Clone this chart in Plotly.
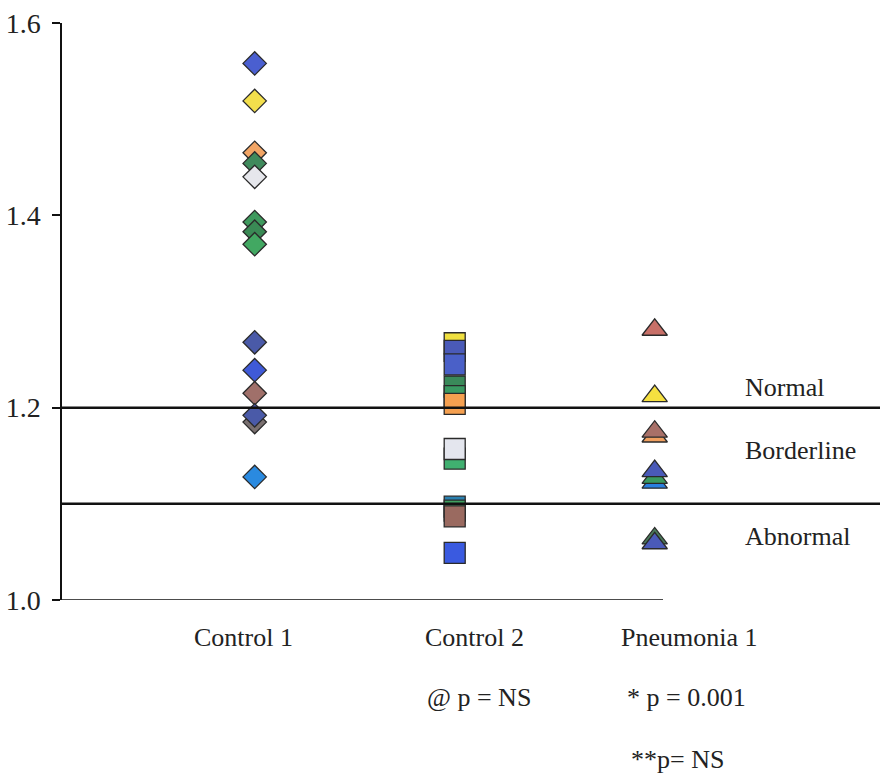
import plotly.graph_objects as go

# ---------------- data ----------------
categories = ["Control 1", "Control 2", "Pneumonia 1"]

control1_values = [1.558, 1.519, 1.465, 1.454, 1.440, 1.393, 1.383, 1.370,
                   1.268, 1.239, 1.215, 1.185, 1.192, 1.128]
control2_values = [1.267, 1.259, 1.245, 1.222, 1.212, 1.204,
                   1.147, 1.157, 1.097, 1.093, 1.087, 1.049]
pneumonia1_values = [1.281, 1.212, 1.170, 1.175, 1.122, 1.127, 1.134,
                     1.064, 1.059]

threshold_values = [1.2, 1.1]
zone_labels = ["Normal", "Borderline", "Abnormal"]
stat_labels = ["@ p = NS", "* p = 0.001", "**p= NS"]
y_ticks = [1.0, 1.2, 1.4, 1.6]

# ---------------- styles ----------------
control1_colors = ["#4a5fd0", "#f3df4c", "#f2a565", "#3f8a5c", "#e6e7ec",
                   "#3f9a5e", "#3a8a55", "#42a862", "#4a5aa8", "#3f5ad8",
                   "#a0706a", "#7a7070", "#4a5aa8", "#2a8ae0"]
control2_colors = ["#f0e040", "#4a5ab8", "#4a60c8", "#3a8a5a", "#3a9a62",
                   "#f5a050", "#40b070", "#e4e6ee", "#2a80b0", "#40a060",
                   "#9a6a60", "#3a5ae0"]
pneumonia1_colors = ["#c87068", "#f5e040", "#f0a060", "#a87068", "#2a80e0",
                     "#3a9a60", "#4a5ab8", "#4a7a5a", "#4a5ab8"]

FONT = "Liberation Serif, Times New Roman, serif"
OUTLINE = dict(color="#2a2a2a", width=1.3)

fig = go.Figure()

groups = [
    (categories[0], control1_values, control1_colors, "diamond", 18),
    (categories[1], control2_values, control2_colors, "square", 21),
    (categories[2], pneumonia1_values, pneumonia1_colors, "triangle-up", 22),
]
for cat, vals, cols, sym, size in groups:
    fig.add_trace(go.Scatter(
        x=[cat] * len(vals), y=vals, mode="markers",
        marker=dict(symbol=sym, size=size, color=cols, line=OUTLINE),
        showlegend=False, hoverinfo="y",
    ))

# plot area in pixels: left 62, right 880, top 23, bottom 600
W, H = 882, 777
L, R, T, B = 62, 880, 23, 600
pw, ph = R - L, B - T

def px_x(x):
    return (x - L) / pw

def px_y(y):
    return (B - y) / ph

shapes = []
# threshold lines across full width
for tv in threshold_values:
    shapes.append(dict(type="line", xref="paper", yref="y", x0=0, x1=1,
                       y0=tv, y1=tv, line=dict(color="#111", width=2.5)))
# x baseline (stops before the right edge)
shapes.append(dict(type="line", xref="paper", yref="y", x0=0, x1=px_x(663),
                   y0=1.0, y1=1.0, line=dict(color="#111", width=1.5)))

annotations = []
zone_y = [387, 450, 536]
for txt, yy in zip(zone_labels, zone_y):
    annotations.append(dict(text=txt, xref="paper", yref="paper",
                            x=px_x(743), y=px_y(yy), xanchor="left",
                            yanchor="middle", showarrow=False,
                            font=dict(family=FONT, size=26, color="#222")))
cat_x = [243, 474, 689]
for txt, xx in zip(categories, cat_x):
    annotations.append(dict(text=txt, xref="paper", yref="paper",
                            x=px_x(xx), y=px_y(637), xanchor="center",
                            yanchor="middle", showarrow=False,
                            font=dict(family=FONT, size=26, color="#222")))
stat_pos = [(479, 697), (686, 697), (677, 760)]
for txt, (xx, yy) in zip(stat_labels, stat_pos):
    annotations.append(dict(text=txt, xref="paper", yref="paper",
                            x=px_x(xx), y=px_y(yy), xanchor="center",
                            yanchor="middle", showarrow=False,
                            font=dict(family=FONT, size=26, color="#222")))

# category axis: Control1 -> px 254.7, spacing 200 px
c0, step = 254.7, 200.0
x_range = [(L - c0) / step, (R - c0) / step]

fig.update_layout(
    width=W, height=H,
    margin=dict(l=L, r=W - R, t=T, b=H - B, pad=0),
    paper_bgcolor="white", plot_bgcolor="white",
    shapes=shapes, annotations=annotations,
    xaxis=dict(type="category", categoryarray=categories,
               range=x_range, showticklabels=False, showline=False,
               showgrid=False, zeroline=False, ticks=""),
    yaxis=dict(range=[1.0, 1.6], tickvals=y_ticks, tickformat=".1f",
               showline=True, linecolor="#111", linewidth=1.5,
               ticks="outside", ticklen=8, tickwidth=1.5, tickcolor="#111",
               showgrid=False, zeroline=False, ticklabelstandoff=6,
               tickfont=dict(family=FONT, size=28, color="#222")),
)

fig.write_html("out.html")
